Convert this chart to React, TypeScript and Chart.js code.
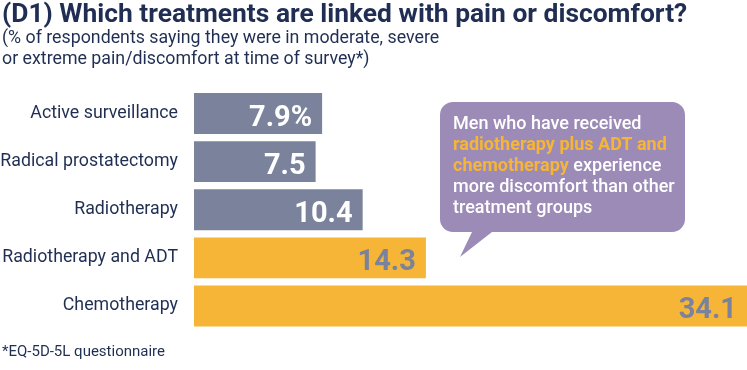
import React, { useEffect, useRef } from "react";
import { Chart, registerables } from "chart.js";

Chart.register(...registerables);

const categories = [
  "Active surveillance",
  "Radical prostatectomy",
  "Radiotherapy",
  "Radiotherapy and ADT",
  "Chemotherapy",
];
const values = [7.9, 7.5, 10.4, 14.3, 34.1];
const valueLabels = ["7.9%", "7.5", "10.4", "14.3", "34.1"];
const highlighted = [false, false, false, true, true];

const titleText = "(D1) Which treatments are linked with pain or discomfort?";
const subtitleLines = [
  "(% of respondents saying they were in moderate, severe",
  "or extreme pain/discomfort at time of survey*)",
];
const footnoteText = "*EQ-5D-5L questionnaire";
// each line: list of [text, highlighted]
const calloutLines: [string, boolean][][] = [
  [["Men who have received", false]],
  [["radiotherapy plus ADT and", true]],
  [["chemotherapy", true], [" experience", false]],
  [["more discomfort than other", false]],
  [["treatment groups", false]],
];

const NAVY = "#1f2e52";
const GRAY = "#7a839b";
const YELLOW = "#f6b536";
const PURPLE = "#9c8bb6";
const FONT = "Roboto, 'Noto Sans', sans-serif";

const overlayPlugin = {
  id: "overlay",
  afterDatasetsDraw(chart: any) {
    const ctx = chart.ctx as CanvasRenderingContext2D;
    const meta = chart.getDatasetMeta(0);
    ctx.save();
    ctx.font = `bold 29px ${FONT}`;
    ctx.textAlign = "right";
    ctx.textBaseline = "alphabetic";
    meta.data.forEach((bar: any, i: number) => {
      ctx.fillStyle = highlighted[i] ? GRAY : "#ffffff";
      ctx.fillText(valueLabels[i], bar.x - 10, bar.y + 12);
    });
    ctx.restore();
  },
  afterDraw(chart: any) {
    const ctx = chart.ctx as CanvasRenderingContext2D;
    ctx.save();
    ctx.textAlign = "left";
    ctx.textBaseline = "alphabetic";
    // title
    ctx.fillStyle = NAVY;
    ctx.font = `bold 26.4px ${FONT}`;
    ctx.fillText(titleText, 2, 22);
    ctx.font = `17.8px ${FONT}`;
    ctx.fillText(subtitleLines[0], 2, 43);
    ctx.fillText(subtitleLines[1], 2, 64);
    // footnote
    ctx.font = `15px ${FONT}`;
    ctx.fillText(footnoteText, 2, 356);

    // callout
    const bx = 440, by = 102, bw = 245, bh = 130, r = 13;
    ctx.fillStyle = PURPLE;
    ctx.beginPath();
    ctx.moveTo(bx + r, by);
    ctx.lineTo(bx + bw - r, by);
    ctx.arcTo(bx + bw, by, bx + bw, by + r, r);
    ctx.lineTo(bx + bw, by + bh - r);
    ctx.arcTo(bx + bw, by + bh, bx + bw - r, by + bh, r);
    ctx.lineTo(492, by + bh);
    ctx.lineTo(460, 257);
    ctx.lineTo(472, by + bh);
    ctx.lineTo(bx + r, by + bh);
    ctx.arcTo(bx, by + bh, bx, by + bh - r, r);
    ctx.lineTo(bx, by + r);
    ctx.arcTo(bx, by, bx + r, by, r);
    ctx.closePath();
    ctx.fill();

    const startX = 453;
    let y = 129;
    calloutLines.forEach((line) => {
      let x = startX;
      line.forEach(([txt, hl]) => {
        ctx.font = hl ? `bold 18px ${FONT}` : `500 18px ${FONT}`;
        ctx.fillStyle = hl ? YELLOW : "#ffffff";
        ctx.fillText(txt, x, y);
        x += ctx.measureText(txt).width;
      });
      y += 21;
    });
    ctx.restore();
  },
};

export default function App() {
  const ref = useRef<HTMLCanvasElement | null>(null);
  useEffect(() => {
    if (!ref.current) return;
    Chart.defaults.font.family = FONT;
    const chart = new Chart(ref.current, {
      type: "bar",
      data: {
        labels: categories,
        datasets: [
          {
            data: values,
            backgroundColor: highlighted.map((h) => (h ? YELLOW : GRAY)),
            borderWidth: 0,
            categoryPercentage: 1,
            barPercentage: 0.85,
          },
        ],
      },
      options: {
        indexAxis: "y",
        animation: false,
        responsive: false,
        layout: { padding: { top: 89.5, bottom: 40, left: 0, right: 0 } },
        plugins: {
          legend: { display: false },
          tooltip: { enabled: false },
          title: { display: false },
        },
        scales: {
          x: { display: false, min: 0, max: 34.1 },
          y: {
            afterFit: (scale: any) => {
              scale.width = 194;
            },
            grid: { display: false, drawTicks: false },
            border: { display: false },
            ticks: {
              padding: 16,
              color: NAVY,
              font: { size: 17.8, family: FONT },
            },
          },
        },
      },
      plugins: [overlayPlugin],
    });
    if ((document as any).fonts) {
      Promise.all([
        document.fonts.load(`bold 29px Roboto`),
        document.fonts.load(`500 18px Roboto`),
        document.fonts.load(`18px Roboto`),
      ]).then(() => chart.update());
    }
    return () => chart.destroy();
  }, []);
  return (
    <div style={{ position: "absolute", left: 0, top: 0, width: 747, height: 370, background: "#fff" }}>
      <canvas ref={ref} width={747} height={370} />
    </div>
  );
}
